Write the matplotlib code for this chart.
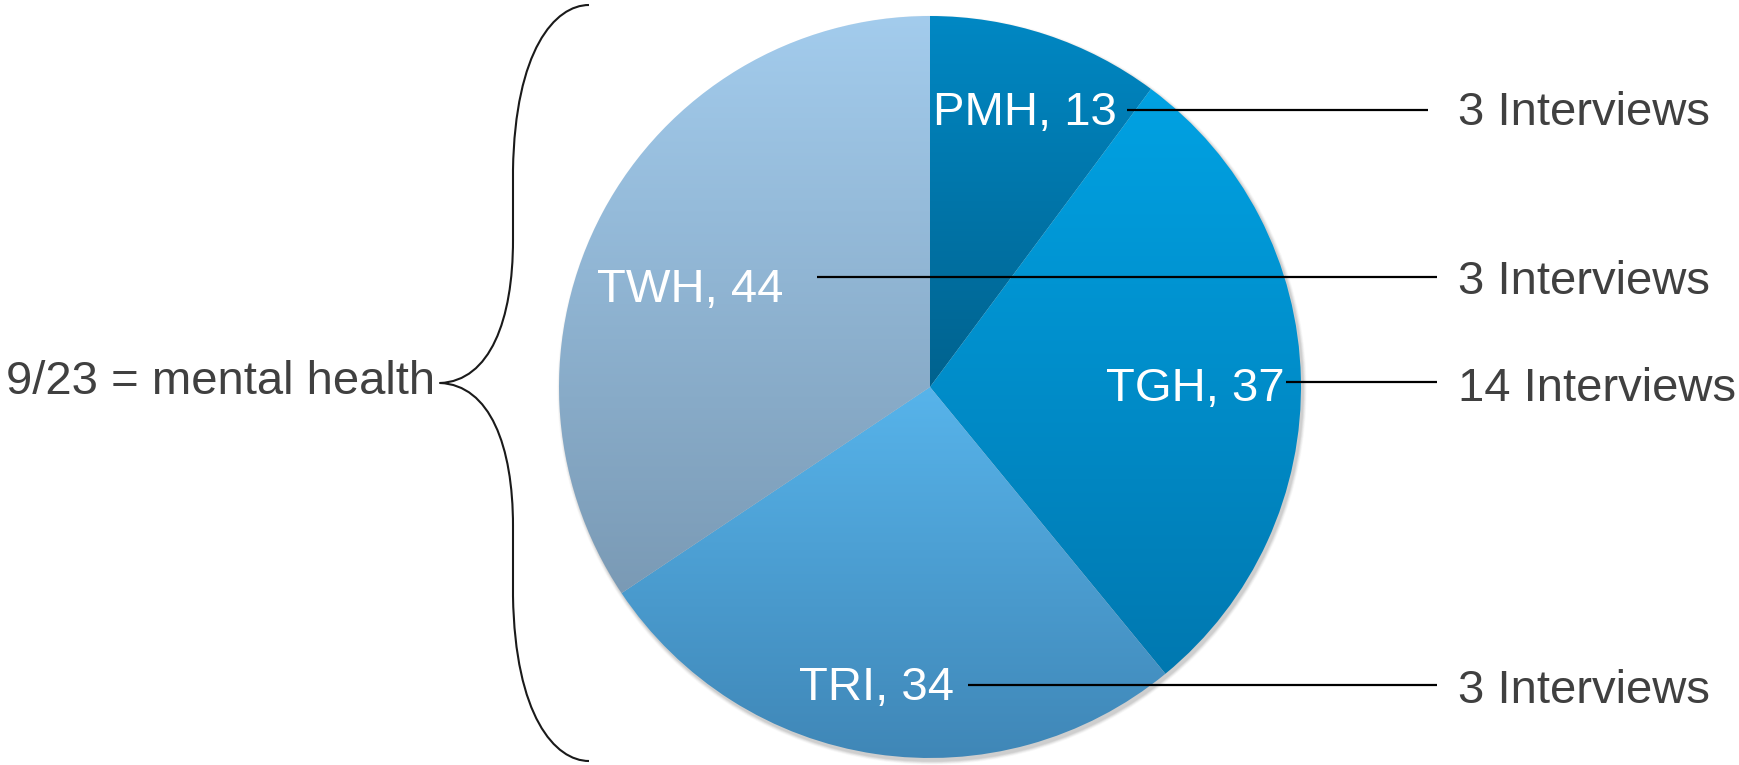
import matplotlib
matplotlib.use("Agg")
import matplotlib.pyplot as plt
import numpy as np
from matplotlib.colors import LinearSegmentedColormap
from matplotlib.patches import Circle, PathPatch
from matplotlib.path import Path

# --- data -------------------------------------------------------------------
sites = ["PMH", "TGH", "TRI", "TWH"]
counts = [13, 37, 34, 44]
interviews = [3, 14, 3, 3]
group_note = "9/23 = mental health"

# slice gradients (top colour, bottom colour)
top_colors = ["#0088c4", "#00a2e3", "#57b4eb", "#a3cced"]
bottom_colors = ["#00628e", "#0078b0", "#3f86b6", "#7a9ab5"]

# --- layout (pixels, y measured from the top of the image) ------------------
W, H = 1740, 765
CX, CY, R = 930, 387, 371
FS = 34
TEXT_GREY = "#404040"

# label anchor (left, baseline), leader line (x0, x1, y), right text baseline
label_pos = {"PMH": (933, 125), "TGH": (1106, 401), "TRI": (799, 700), "TWH": (597, 302)}
leader = {"PMH": (1127, 1428, 110), "TGH": (1286, 1437, 382),
          "TRI": (968, 1437, 685), "TWH": (817, 1437, 277)}
right_base = {"PMH": 125, "TWH": 294, "TGH": 401, "TRI": 703}
RIGHT_X = 1458


def Y(ypx):
    return H - ypx


fig = plt.figure(figsize=(W / 100, H / 100), dpi=100)
ax = fig.add_axes([0, 0, 1, 1])
ax.set_axis_off()

# soft drop shadow under the pie
for k, a in zip(range(6, 0, -1), [0.03, 0.04, 0.05, 0.06, 0.07, 0.08]):
    ax.add_patch(Circle((CX + 2, Y(CY) - 3), R + k * 0.6, color="#606060",
                        alpha=a, lw=0, zorder=0))

wedges, _ = ax.pie(counts, startangle=90, counterclock=False, center=(CX, Y(CY)),
                   radius=R, frame=True, wedgeprops=dict(lw=0))

grad = np.linspace(1, 0, 256).reshape(-1, 1)
for w, c0, c1 in zip(wedges, top_colors, bottom_colors):
    w.set_facecolor("none")
    verts = w.get_path().vertices
    y0, y1 = verts[:, 1].min(), verts[:, 1].max()
    x0, x1 = verts[:, 0].min(), verts[:, 0].max()
    cmap = LinearSegmentedColormap.from_list("g", [c1, c0])
    im = ax.imshow(grad, cmap=cmap, extent=[x0 - 2, x1 + 2, y0 - 2, y1 + 2],
                   origin="upper", aspect="auto", zorder=1, interpolation="bilinear")
    im.set_clip_path(w)

for site, n, k in zip(sites, counts, interviews):
    lx, ly = label_pos[site]
    fam = ["Liberation Sans Narrow", "Liberation Sans"] if site == "TRI" else ["Liberation Sans"]
    ax.text(lx, Y(ly), f"{site}, {n}", color="white", fontsize=FS, family=fam,
            ha="left", va="baseline", zorder=3)
    x0, x1, yl = leader[site]
    ax.plot([x0, x1], [Y(yl), Y(yl)], color="black", lw=1.6, zorder=4,
            solid_capstyle="butt")
    ax.text(RIGHT_X, Y(right_base[site]), f"{k} Interviews", color=TEXT_GREY,
            fontsize=FS, family=["Liberation Sans"], ha="left", va="baseline", zorder=3)

ax.text(6, Y(394), group_note, color=TEXT_GREY, fontsize=FS,
        family=["Liberation Sans"], ha="left", va="baseline")

# curly brace grouping the hospitals (mirrored about the tip)
tip_x, tip_y, top_y = 440, 383, 5
end_x, stem_x = 589, 513


def half(s):
    # s = +1 for the upper half, -1 for the lower half
    def yy(d):
        return Y(tip_y - s * d)
    d0 = tip_y - top_y
    return [(end_x, yy(d0)),
            (555, yy(d0)), (stem_x + 2, yy(d0 - 45)), (stem_x, yy(d0 - 165)),
            (stem_x, yy(143)),
            (stem_x, yy(63)), (490, yy(2)), (tip_x, yy(0))]


upper = half(1)
lower = half(-1)
verts = upper + lower[::-1][1:]
codes = ([Path.MOVETO] + [Path.CURVE4] * 3 + [Path.LINETO] + [Path.CURVE4] * 3 +
         [Path.CURVE4] * 3 + [Path.LINETO] + [Path.CURVE4] * 3)
ax.add_patch(PathPatch(Path(verts, codes), fill=False, lw=1.5, color="#1a1a1a",
                       joinstyle="round"))

ax.set_xlim(0, W)
ax.set_ylim(0, H)
ax.set_aspect("auto")
fig.savefig("out.png", dpi=100, facecolor="white")
